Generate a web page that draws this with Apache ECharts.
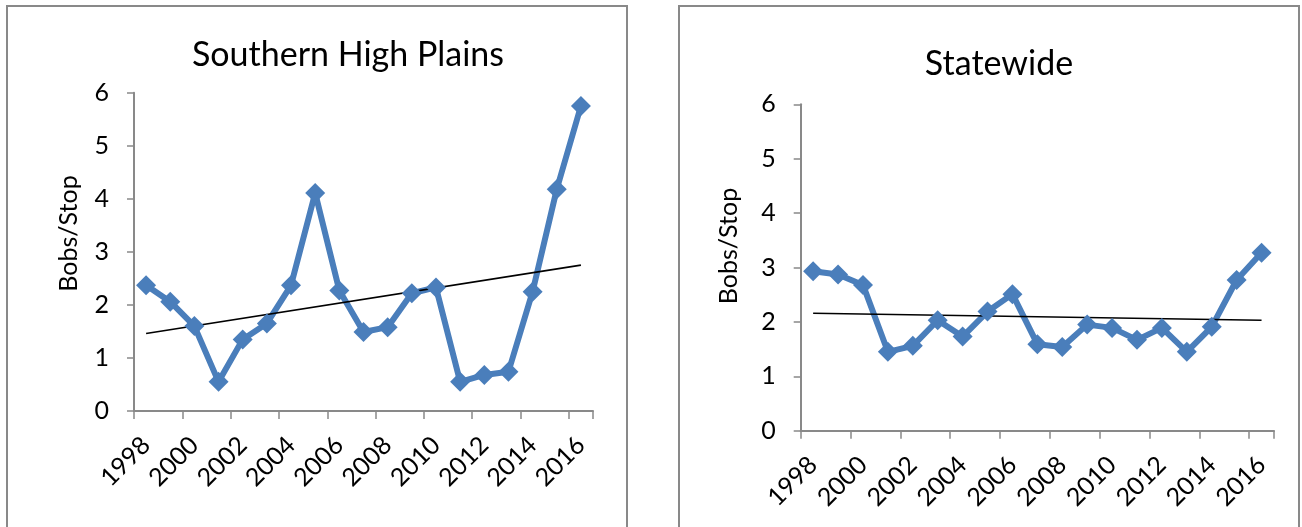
<!DOCTYPE html>
<html>
<head>
<meta charset="utf-8">
<script src="https://cdn.jsdelivr.net/npm/echarts@6/dist/echarts.min.js"></script>
<style>
  html, body { margin: 0; padding: 0; background: #fff; width: 1302px; height: 527px; overflow: hidden; }
  .panel { position: absolute; top: 5px; width: 618px; height: 540px; border: 2px solid #898989; }
</style>
</head>
<body>
<div id="left" class="panel" style="left: 6px;"></div>
<div id="right" class="panel" style="left: 678px;"></div>
<script>
// 年份（横轴）
const years = ['1998','1999','2000','2001','2002','2003','2004','2005','2006','2007',
  '2008','2009','2010','2011','2012','2013','2014','2015','2016']

// Southern High Plains
const shpValues = [2.37, 2.06, 1.60, 0.55, 1.35, 1.65, 2.37, 4.11, 2.27, 1.49,
  1.58, 2.22, 2.33, 0.55, 0.68, 0.74, 2.25, 4.18, 5.75]
// 趋势线两端
const shpTrend = [1.46, 2.75]

// Statewide
const stateValues = [2.93, 2.87, 2.68, 1.45, 1.56, 2.03, 1.73, 2.19, 2.51, 1.59,
  1.54, 1.95, 1.89, 1.67, 1.89, 1.45, 1.91, 2.77, 3.27]
const stateTrend = [2.16, 2.03]

const yTicks = [0, 1, 2, 3, 4, 5, 6]

const FONT = 'Lato'
const AXIS_COLOR = '#898989'

function trendData(ends) {
  let list = years.map(() => null)
  list[0] = ends[0]
  list[years.length - 1] = ends[1]
  return list
}

function panelOptions(cfg) {
  return {
    animation: false,
    title: {
      text: cfg.title,
      left: cfg.titleX,
      top: cfg.titleTop,
      textAlign: 'center',
      textStyle: { fontFamily: FONT, fontSize: 34, fontWeight: 'normal', color: '#000' }
    },
    grid: cfg.grid,
    graphic: [{
      type: 'text',
      x: cfg.nameX,
      y: cfg.nameY,
      rotation: Math.PI / 2,
      style: {
        text: 'Bobs/Stop',
        fontFamily: FONT,
        fontSize: 25,
        fill: '#000',
        align: 'center',
        verticalAlign: 'middle'
      }
    }],
    xAxis: {
      type: 'category',
      data: years,
      boundaryGap: true,
      axisLine: { lineStyle: { color: AXIS_COLOR, width: 2 } },
      axisTick: { show: true, length: 8, lineStyle: { color: AXIS_COLOR, width: 1.5 } },
      axisLabel: {
        interval: 1,
        rotate: 45,
        margin: 30,
        fontFamily: FONT,
        fontSize: 25,
        color: '#000'
      },
      splitLine: { show: false }
    },
    yAxis: {
      type: 'value',
      min: yTicks[0],
      max: yTicks[yTicks.length - 1],
      interval: 1,
      axisLine: { show: true, lineStyle: { color: AXIS_COLOR, width: 2 } },
      axisTick: { show: true, length: 7, lineStyle: { color: AXIS_COLOR, width: 1.5 } },
      axisLabel: { margin: 25, fontFamily: FONT, fontSize: 25, color: '#000' },
      splitLine: { show: false }
    },
    series: [{
      type: 'line',
      data: cfg.values,
      symbol: 'diamond',
      symbolSize: 20,
      showAllSymbol: true,
      lineStyle: { color: '#4A7EBB', width: 6 },
      itemStyle: { color: '#4A7EBB' }
    }, {
      type: 'line',
      data: trendData(cfg.trend),
      connectNulls: true,
      symbol: 'none',
      lineStyle: { color: '#000', width: 1.6 }
    }]
  }
}

let leftChart = echarts.init(document.getElementById('left'))
leftChart.setOption(panelOptions({
  title: 'Southern High Plains',
  titleX: 335,
  titleTop: 26,
  grid: { left: 126, top: 85.7, width: 459, height: 318.3 },
  nameX: 61,
  nameY: 226.5,
  values: shpValues,
  trend: shpTrend
}))

let rightChart = echarts.init(document.getElementById('right'))
rightChart.setOption(panelOptions({
  title: 'Statewide',
  titleX: 314,
  titleTop: 35,
  grid: { left: 120.7, top: 97.3, width: 473.3, height: 326.4 },
  nameX: 49,
  nameY: 239,
  values: stateValues,
  trend: stateTrend
}))
</script>
</body>
</html>
